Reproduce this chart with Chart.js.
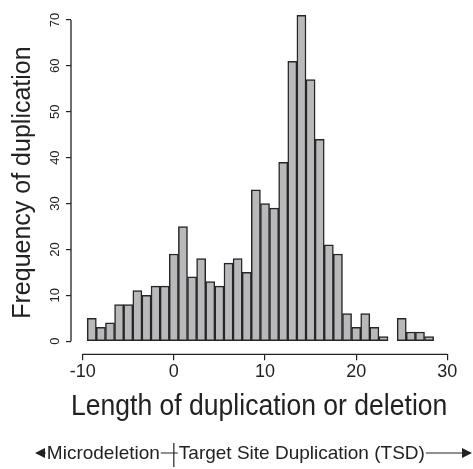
<!DOCTYPE html>
<html>
<head>
<meta charset="utf-8">
<script src="https://cdn.jsdelivr.net/npm/chart.js@4/dist/chart.umd.min.js"></script>
<style>
  html, body { margin: 0; padding: 0; background: #fff; }
  canvas { display: block; }
</style>
</head>
<body>
<canvas id="histChart" width="473" height="469"></canvas>
<script>
// histogram bins (bp), centred on whole numbers
const binCenters = [-9, -8, -7, -6, -5, -4, -3, -2, -1, 0, 1, 2, 3, 4, 5, 6, 7, 8, 9,
  10, 11, 12, 13, 14, 15, 16, 17, 18, 19, 20, 21, 22, 23, 24, 25, 26, 27, 28];
const frequencies = [5, 3, 4, 8, 8, 11, 10, 12, 12, 19, 25, 14, 18, 13, 12, 17, 18, 15, 33,
  30, 29, 39, 61, 71, 57, 44, 21, 19, 6, 3, 6, 3, 1, 0, 5, 2, 2, 1];
const xTicks = [-10, 0, 10, 20, 30];
const yTicks = [0, 10, 20, 30, 40, 50, 60, 70];

const FONT = '"Liberation Sans", Arial, Helvetica, sans-serif';
const INK = '#222';
Chart.defaults.font.family = FONT;
Chart.defaults.color = INK;

// R-style axis lines that only run between the first and last tick,
// plus the deletion / duplication arrow underneath
const axisAndArrows = {
  id: 'axisAndArrows',
  afterDraw(chart) {
    const { ctx, chartArea, scales } = chart;
    const xs = scales.x, ys = scales.y;
    ctx.save();
    ctx.strokeStyle = INK;
    ctx.lineWidth = 1.3;
    ctx.beginPath();
    ctx.moveTo(chartArea.left, ys.getPixelForValue(yTicks[0]));
    ctx.lineTo(chartArea.left, ys.getPixelForValue(yTicks[yTicks.length - 1]));
    ctx.moveTo(xs.getPixelForValue(xTicks[0]), chartArea.bottom);
    ctx.lineTo(xs.getPixelForValue(xTicks[xTicks.length - 1]), chartArea.bottom);
    ctx.stroke();

    // arrow row
    const cy = 453;
    const cx = xs.getPixelForValue(0);
    const leftTip = 35, rightTip = 472;
    ctx.font = '19px ' + FONT;
    ctx.fillStyle = INK;
    ctx.textBaseline = 'middle';
    const leftEnd = cx - 14;
    const rightStart = cx + 5;
    ctx.textAlign = 'right';
    ctx.fillText('Microdeletion', leftEnd, cy + 1);
    const leftStart = leftEnd - ctx.measureText('Microdeletion').width;
    ctx.textAlign = 'left';
    const label = 'Target Site Duplication (TSD)';
    ctx.fillText(label, rightStart, cy + 1);
    const rightEnd = rightStart + ctx.measureText(label).width;

    ctx.lineWidth = 1.2;
    ctx.beginPath();
    ctx.moveTo(leftEnd + 1, cy); ctx.lineTo(rightStart - 1, cy);
    ctx.moveTo(cx, cy - 10); ctx.lineTo(cx, cy + 14);
    ctx.moveTo(leftTip + 8, cy); ctx.lineTo(leftStart - 1, cy);
    ctx.moveTo(rightEnd + 1, cy); ctx.lineTo(rightTip - 8, cy);
    ctx.stroke();

    ctx.beginPath();
    ctx.moveTo(leftTip, cy); ctx.lineTo(leftTip + 10, cy - 5); ctx.lineTo(leftTip + 10, cy + 5);
    ctx.closePath();
    ctx.moveTo(rightTip, cy); ctx.lineTo(rightTip - 10, cy - 5); ctx.lineTo(rightTip - 10, cy + 5);
    ctx.closePath();
    ctx.fill();
    ctx.restore();
  }
};

new Chart(document.getElementById('histChart'), {
  type: 'bar',
  data: {
    datasets: [{
      data: binCenters.map((x, i) => ({ x: x, y: frequencies[i] })),
      backgroundColor: '#b9b9bc',
      borderColor: '#262626',
      borderWidth: 1.5,
      borderSkipped: false,
      barPercentage: 1,
      categoryPercentage: 1
    }]
  },
  options: {
    responsive: false,
    animation: false,
    layout: { padding: { left: 0, right: 25.7, top: 6.4, bottom: 44.2 } },
    plugins: { legend: { display: false }, tooltip: { enabled: false } },
    scales: {
      x: {
        type: 'linear',
        min: -11.28,
        max: 30,
        offset: false,
        afterBuildTicks: s => { s.ticks = xTicks.map(v => ({ value: v })); },
        afterFit: s => { s.height = 70.5; },
        border: { display: false },
        grid: { offset: false, drawOnChartArea: false, drawTicks: true, tickLength: 6, color: INK, lineWidth: 1.2 },
        ticks: { font: { size: 18 }, padding: 1, color: INK, maxRotation: 0 },
        title: { display: true, text: 'Length of duplication or deletion', font: { size: 29 }, color: INK, padding: 0 }
      },
      y: {
        min: -2.86,
        max: 72,
        afterBuildTicks: s => { s.ticks = yTicks.map(v => ({ value: v })); },
        afterFit: s => { s.width = 71; },
        border: { display: false },
        grid: { drawOnChartArea: false, drawTicks: true, tickLength: 5, color: INK, lineWidth: 1.2 },
        ticks: { font: { size: 13 }, padding: 3, color: INK, minRotation: 90, maxRotation: 90, crossAlign: 'center' },
        title: { display: true, text: 'Frequency of duplication', font: { size: 25 }, color: INK, padding: { top: 8, bottom: 0 } }
      }
    }
  },
  plugins: [axisAndArrows]
});
</script>
</body>
</html>
